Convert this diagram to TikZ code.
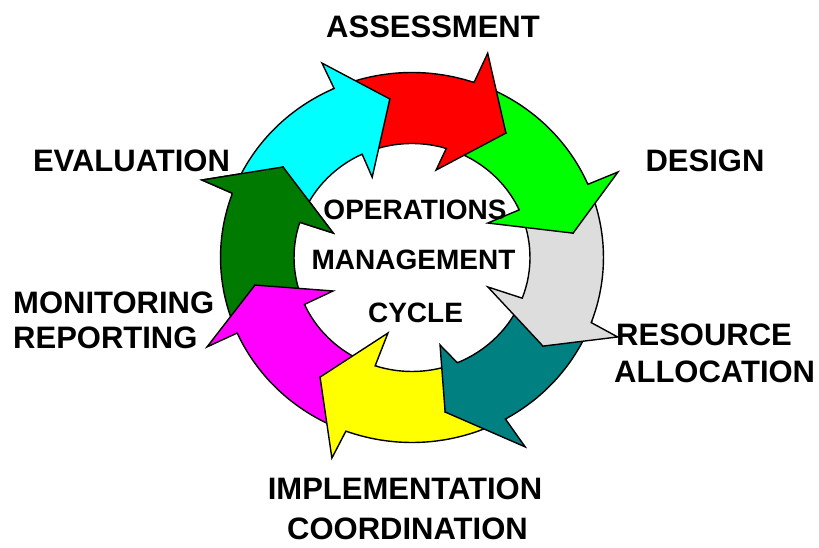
\documentclass[tikz,border=0pt]{standalone}
\usepackage{fontspec}
\setmainfont{Liberation Sans}
\definecolor{cyanA}{RGB}{0,255,255}
\definecolor{redA}{RGB}{255,0,0}
\definecolor{greenA}{RGB}{0,255,0}
\definecolor{grayA}{RGB}{221,221,221}
\definecolor{tealA}{RGB}{0,128,128}
\definecolor{yellowA}{RGB}{255,255,0}
\definecolor{magentaA}{RGB}{255,0,255}
\definecolor{dkgreenA}{RGB}{0,122,0}
\tikzset{
  arrowshape/.style={draw=black, line width=1.4pt, line join=miter},
  lbl/.style={inner sep=0pt, font=\fontsize{31}{37}\selectfont\bfseries},
  ctr/.style={inner sep=0pt, font=\fontsize{28}{34}\selectfont\bfseries},
}
\begin{document}
\begin{tikzpicture}[x=1pt,y=1pt]
\useasboundingbox (0,0) rectangle (819,547);
\begin{scope}[shift={(412,289.5)}, xscale=1.035]
  % dark green (evaluation)
  \path[arrowshape, fill=dkgreenA] (-155.9:185) arc[start angle=-155.9, end angle=-200.3, radius=185]
     -- (159.1:217.2) -- (144:154) -- (162.2:80) -- (-198:114)
     arc[start angle=-198, end angle=-155.7, radius=114] -- (-169.7:154.2) -- cycle;
  % magenta
  \path[arrowshape, fill=magentaA] (-110.2:185) arc[start angle=-110.2, end angle=-155.9, radius=185]
     -- (-155.7:217.3) -- (-169.7:154.2) -- (-156.3:83.3) -- (-155.7:114)
     arc[start angle=-155.7, end angle=-108.2, radius=114] -- (-126.6:149) -- cycle;
  % yellow
  \path[arrowshape, fill=yellowA] (-60.8:185) arc[start angle=-60.8, end angle=-110.2, radius=185]
     -- (-111.1:215) -- (-126.6:149) -- (-107.1:79) -- (-108.2:114)
     arc[start angle=-108.2, end angle=-67.4, radius=114] -- (-78.3:157.8) -- cycle;
  % teal
  \path[arrowshape, fill=tealA] (-20.6:185) arc[start angle=-20.6, end angle=-60.8, radius=185]
     -- (-60:218.7) -- (-78.3:157.8) -- (-72.8:91.6) -- (-67.4:114)
     arc[start angle=-67.4, end angle=-20.9, radius=114] -- (-35:154.5) -- cycle;
  % gray
  \path[arrowshape, fill=grayA] (23.3:185) arc[start angle=23.3, end angle=-20.6, radius=185]
     -- (-21.8:214) -- (-35:154.5) -- (-21.9:79) -- (-20.9:114)
     arc[start angle=-20.9, end angle=24.7, radius=114] -- (8.9:157.5) -- cycle;
  % green
  \path[arrowshape, fill=greenA] (71.1:185) arc[start angle=71.1, end angle=23.3, radius=185]
     -- (23.25:216.6) -- (8.9:157.5) -- (25.2:81) -- (24.7:114)
     arc[start angle=24.7, end angle=73.1, radius=114] -- (53.9:154) -- cycle;
  % red
  \path[arrowshape, fill=redA] (114:185) arc[start angle=114, end angle=71.1, radius=185]
     -- (70.3:217) -- (53.9:154) -- (75.1:90.5) -- (73.1:114)
     arc[start angle=73.1, end angle=115, radius=114] -- (97.7:160) -- cycle;
  % cyan
  \path[arrowshape, fill=cyanA] (159.7:185) arc[start angle=159.7, end angle=114, radius=185]
     -- (114.1:213) -- (97.7:160) -- (115.6:89) -- (115:114)
     arc[start angle=115, end angle=162, radius=114] -- (144:154) -- cycle;
  % dark green head on top of the cyan tail
  \fill[dkgreenA] (159.7:185) -- (159.1:217.2) -- (144:154) -- (162.2:80) -- (162:114) -- cycle;
  \draw[arrowshape] (159.7:185) -- (159.1:217.2) -- (144:154) -- (162.2:80) -- (162:114);
\end{scope}
\node[lbl, anchor=base] (assess) at (433,509.5) {ASSESSMENT};
\node[lbl, anchor=base] (design) at (705,375) {DESIGN};
\node[lbl, anchor=base] (evalu) at (131.5,375) {EVALUATION};
\node[lbl, anchor=base west] (monit) at (13,234) {MONITORING};
\node[lbl, anchor=base west] (repor) at (13,199) {REPORTING};
\node[lbl, anchor=base west] (resou) at (616,202) {RESOURCE};
\node[lbl, anchor=base west] (alloc) at (614,165) {ALLOCATION};
\node[lbl, anchor=base] (imple) at (405,48) {IMPLEMENTATION};
\node[lbl, anchor=base] (coord) at (407.5,7.5) {COORDINATION};
\node[ctr, anchor=base] (opera) at (415,327) {OPERATIONS};
\node[ctr, anchor=base] (manag) at (413.5,277) {MANAGEMENT};
\node[ctr, anchor=base] (cycle) at (415.5,224.5) {CYCLE};
\end{tikzpicture}
\end{document}
